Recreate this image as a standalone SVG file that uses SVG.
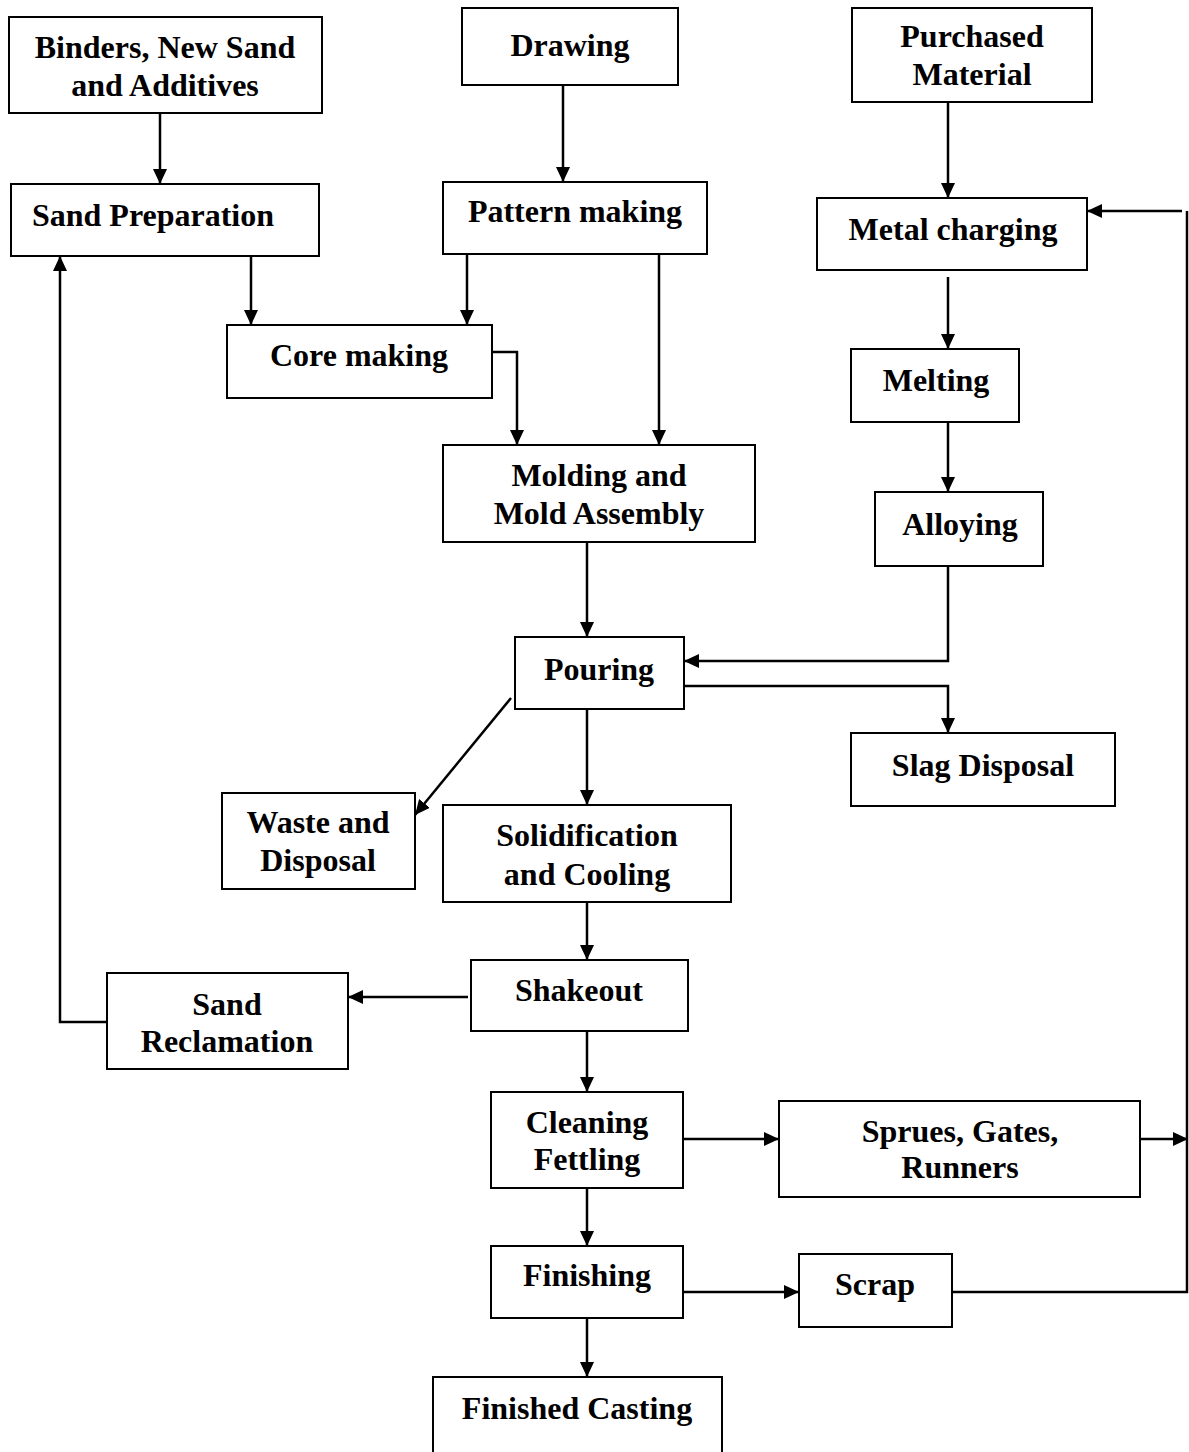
<svg xmlns="http://www.w3.org/2000/svg" width="1189" height="1452" viewBox="0 0 1189 1452">
  <style>
    .box { fill: #fff; stroke: #000; stroke-width: 2; }
    .lbl { font-family: "Liberation Serif", "Times New Roman", serif; font-weight: bold; font-size: 32px; fill: #000; text-anchor: middle; }
    .wire { fill: none; stroke: #000; stroke-width: 2.5; }
    .arr { marker-end: url(#head); }
  </style>
  <defs>
    <marker id="head" markerUnits="userSpaceOnUse" markerWidth="16" markerHeight="14" refX="15" refY="7" orient="auto">
      <path d="M0,0 L15,7 L0,14 z" fill="#000"/>
    </marker>
  </defs>
  <rect width="1189" height="1452" fill="#fff"/>

  <!-- connectors -->
  <g id="connectors">
    <line class="wire arr" x1="160" y1="113" x2="160" y2="184"/>
    <line class="wire arr" x1="563" y1="85" x2="563" y2="182"/>
    <line class="wire arr" x1="948" y1="102" x2="948" y2="198"/>
    <line class="wire arr" x1="251" y1="253" x2="251" y2="325"/>
    <line class="wire arr" x1="467" y1="254" x2="467" y2="325"/>
    <line class="wire arr" x1="659" y1="254" x2="659" y2="445"/>
    <polyline class="wire arr" points="492,352 517,352 517,445"/>
    <line class="wire arr" x1="948" y1="277" x2="948" y2="349"/>
    <line class="wire arr" x1="948" y1="422" x2="948" y2="492"/>
    <line class="wire arr" x1="587" y1="542" x2="587" y2="637"/>
    <polyline class="wire arr" points="948,566 948,661 684,661"/>
    <polyline class="wire arr" points="684,686 948,686 948,733"/>
    <line class="wire arr" x1="511" y1="698" x2="415" y2="815"/>
    <line class="wire arr" x1="587" y1="709" x2="587" y2="805"/>
    <line class="wire arr" x1="587" y1="902" x2="587" y2="960"/>
    <line class="wire arr" x1="468" y1="997" x2="348" y2="997"/>
    <polyline class="wire arr" points="107,1022 60,1022 60,256"/>
    <line class="wire arr" x1="587" y1="1031" x2="587" y2="1092"/>
    <line class="wire arr" x1="683" y1="1139" x2="779" y2="1139"/>
    <line class="wire arr" x1="1140" y1="1139" x2="1188" y2="1139"/>
    <line class="wire arr" x1="587" y1="1188" x2="587" y2="1246"/>
    <line class="wire arr" x1="683" y1="1292" x2="799" y2="1292"/>
    <polyline class="wire" points="952,1292 1187,1292 1187,211"/>
    <line class="wire arr" x1="1182" y1="211" x2="1087" y2="211"/>
    <line class="wire arr" x1="587" y1="1318" x2="587" y2="1377"/>
  </g>

  <!-- process steps -->
  <g id="binders">
    <rect class="box" x="9" y="17" width="313" height="96"/>
    <text class="lbl" x="165" y="58">Binders, New Sand</text>
    <text class="lbl" x="165" y="96">and Additives</text>
  </g>
  <g id="drawing">
    <rect class="box" x="462" y="8" width="216" height="77"/>
    <text class="lbl" x="570" y="56">Drawing</text>
  </g>
  <g id="purchased">
    <rect class="box" x="852" y="8" width="240" height="94"/>
    <text class="lbl" x="972" y="47">Purchased</text>
    <text class="lbl" x="972" y="85">Material</text>
  </g>
  <g id="sand-preparation">
    <rect class="box" x="11" y="184" width="308" height="72"/>
    <text class="lbl" x="153" y="226">Sand Preparation</text>
  </g>
  <g id="pattern-making">
    <rect class="box" x="443" y="182" width="264" height="72"/>
    <text class="lbl" x="575" y="222">Pattern making</text>
  </g>
  <g id="metal-charging">
    <rect class="box" x="817" y="198" width="270" height="72"/>
    <text class="lbl" x="953" y="240">Metal charging</text>
  </g>
  <g id="core-making">
    <rect class="box" x="227" y="325" width="265" height="73"/>
    <text class="lbl" x="359" y="366">Core making</text>
  </g>
  <g id="melting">
    <rect class="box" x="851" y="349" width="168" height="73"/>
    <text class="lbl" x="936" y="391">Melting</text>
  </g>
  <g id="molding">
    <rect class="box" x="443" y="445" width="312" height="97"/>
    <text class="lbl" x="599" y="486">Molding and</text>
    <text class="lbl" x="599" y="524">Mold Assembly</text>
  </g>
  <g id="alloying">
    <rect class="box" x="875" y="492" width="168" height="74"/>
    <text class="lbl" x="960" y="535">Alloying</text>
  </g>
  <g id="pouring">
    <rect class="box" x="515" y="637" width="169" height="72"/>
    <text class="lbl" x="599" y="680">Pouring</text>
  </g>
  <g id="slag-disposal">
    <rect class="box" x="851" y="733" width="264" height="73"/>
    <text class="lbl" x="983" y="776">Slag Disposal</text>
  </g>
  <g id="waste-disposal">
    <rect class="box" x="222" y="793" width="193" height="96"/>
    <text class="lbl" x="318" y="833">Waste and</text>
    <text class="lbl" x="318" y="871">Disposal</text>
  </g>
  <g id="solidification">
    <rect class="box" x="443" y="805" width="288" height="97"/>
    <text class="lbl" x="587" y="846">Solidification</text>
    <text class="lbl" x="587" y="885">and Cooling</text>
  </g>
  <g id="shakeout">
    <rect class="box" x="471" y="960" width="217" height="71"/>
    <text class="lbl" x="579" y="1001">Shakeout</text>
  </g>
  <g id="sand-reclamation">
    <rect class="box" x="107" y="973" width="241" height="96"/>
    <text class="lbl" x="227" y="1015">Sand</text>
    <text class="lbl" x="227" y="1052">Reclamation</text>
  </g>
  <g id="cleaning">
    <rect class="box" x="491" y="1092" width="192" height="96"/>
    <text class="lbl" x="587" y="1133">Cleaning</text>
    <text class="lbl" x="587" y="1170">Fettling</text>
  </g>
  <g id="sprues">
    <rect class="box" x="779" y="1101" width="361" height="96"/>
    <text class="lbl" x="960" y="1142">Sprues, Gates,</text>
    <text class="lbl" x="960" y="1178">Runners</text>
  </g>
  <g id="finishing">
    <rect class="box" x="491" y="1246" width="192" height="72"/>
    <text class="lbl" x="587" y="1286">Finishing</text>
  </g>
  <g id="scrap">
    <rect class="box" x="799" y="1254" width="153" height="73"/>
    <text class="lbl" x="875" y="1295">Scrap</text>
  </g>
  <g id="finished-casting">
    <path class="box" d="M433,1460 L433,1377 L722,1377 L722,1460"/>
    <text class="lbl" x="577" y="1419">Finished Casting</text>
  </g>
</svg>
